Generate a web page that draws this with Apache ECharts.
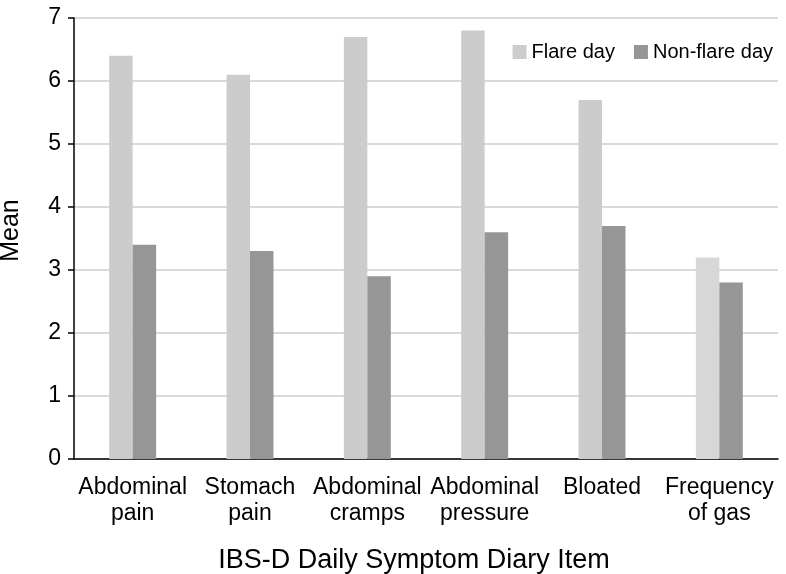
<!DOCTYPE html>
<html>
<head>
<meta charset="utf-8">
<script src="https://cdn.jsdelivr.net/npm/echarts@6/dist/echarts.min.js"></script>
<style>
html,body{margin:0;padding:0;background:#fff;}
#chart{width:786px;height:574px;}
</style>
</head>
<body>
<div id="chart"></div>
<script>
var categories = ['Abdominal\npain', 'Stomach\npain', 'Abdominal\ncramps', 'Abdominal\npressure', 'Bloated', 'Frequency\nof gas'];
var flareDay = [6.4, 6.1, 6.7, 6.8, 5.7, 3.2];
var nonFlareDay = [3.4, 3.3, 2.9, 3.6, 3.7, 2.8];
var yTicks = [0, 1, 2, 3, 4, 5, 6, 7];

var FONT = '"Liberation Sans", Arial, sans-serif';
var chart = echarts.init(document.getElementById('chart'));
chart.setOption({
  backgroundColor: '#ffffff',
  animation: false,
  textStyle: { fontFamily: FONT, color: '#000' },
  grid: { left: 74, right: 8, top: 18, bottom: 115, containLabel: false, outerBoundsMode: 'none' },
  legend: {
    right: 8, top: 37,
    itemWidth: 14, itemHeight: 14, itemGap: 19,
    icon: 'rect',
    textStyle: { fontFamily: FONT, fontSize: 20, color: '#000' },
    data: ['Flare day', 'Non-flare day']
  },
  xAxis: {
    type: 'category',
    data: categories,
    name: 'IBS-D Daily Symptom Diary Item',
    nameLocation: 'middle',
    nameGap: 88,
    nameTextStyle: { fontFamily: FONT, fontSize: 27, color: '#000', padding: [0, 24, 0, 0] },
    axisLine: { lineStyle: { color: '#000', width: 1.5 } },
    axisTick: { show: false },
    axisLabel: { fontFamily: FONT, fontSize: 23, lineHeight: 26, color: '#000', margin: 16, interval: 0 }
  },
  yAxis: {
    type: 'value',
    min: yTicks[0], max: yTicks[yTicks.length - 1], interval: 1,
    name: 'Mean',
    nameLocation: 'middle',
    nameGap: 50,
    nameTextStyle: { fontFamily: FONT, fontSize: 25, color: '#000', padding: [0, 0, 0, 16] },
    axisLine: { show: true, lineStyle: { color: '#000', width: 1.5 } },
    axisTick: { show: true, length: 6, lineStyle: { color: '#000', width: 1.5 } },
    axisLabel: { fontFamily: FONT, fontSize: 23, color: '#000', margin: 13 },
    splitLine: { lineStyle: { color: '#d9d9d9', width: 2 } }
  },
  series: [
    {
      name: 'Flare day', type: 'bar',
      data: flareDay.map(function (v, i) {
        return i === 5 ? { value: v, itemStyle: { color: '#d7d7d7' } } : v;
      }),
      itemStyle: { color: '#cccccc' },
      barGap: '0%', barCategoryGap: '60%'
    },
    {
      name: 'Non-flare day', type: 'bar',
      data: nonFlareDay,
      itemStyle: { color: '#969696' },
      barGap: '0%', barCategoryGap: '60%'
    }
  ]
});
</script>
</body>
</html>
